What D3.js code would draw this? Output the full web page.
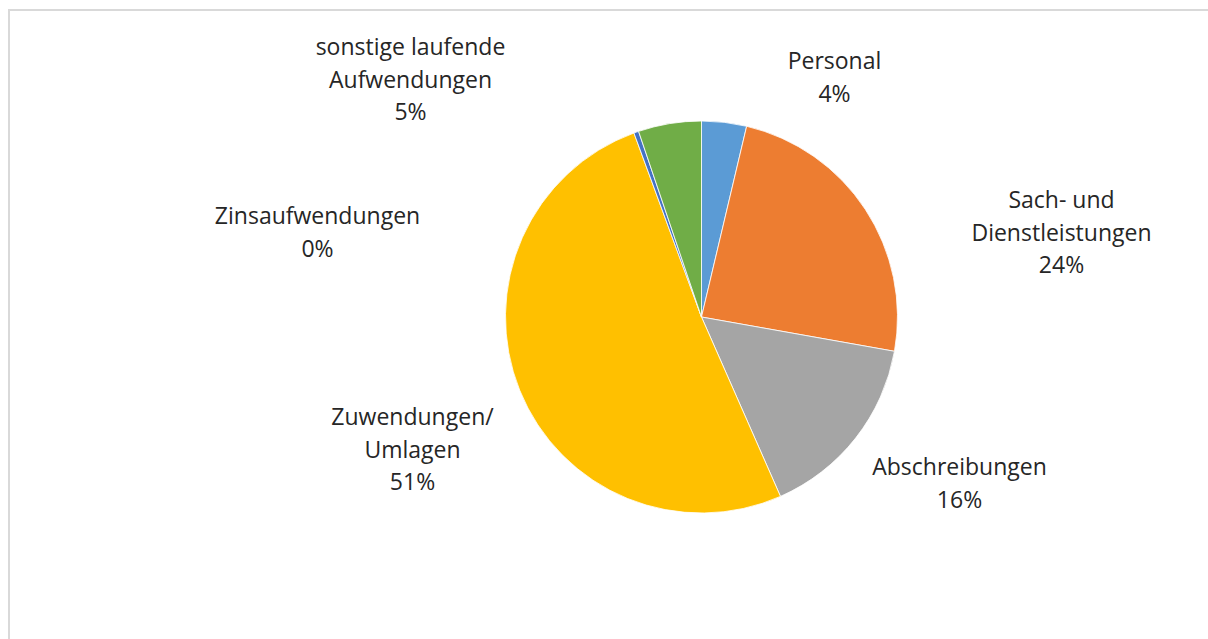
<!DOCTYPE html>
<html><head><meta charset="utf-8">
<script src="https://cdn.jsdelivr.net/npm/d3@7"></script>
<style>body{margin:0;background:#fff;overflow:hidden}svg{display:block}</style>
</head><body>
<script>
const categories = ["Personal", "Sach- und Dienstleistungen", "Abschreibungen", "Zuwendungen/ Umlagen", "Zinsaufwendungen", "sonstige laufende Aufwendungen"];
const values = [3.7, 24.1, 15.6, 51.0, 0.4, 5.2];
const percentLabels = ["4%", "24%", "16%", "51%", "0%", "5%"];
const labelLines = [["Personal"], ["Sach- und", "Dienstleistungen"], ["Abschreibungen"], ["Zuwendungen/", "Umlagen"], ["Zinsaufwendungen"], ["sonstige laufende", "Aufwendungen"]];
const colors = ["#5B9BD5", "#ED7D31", "#A5A5A5", "#FFC000", "#4472C4", "#70AD47"];

// layout
const W = 1208, H = 639;
const cx = 701.5, cy = 317, R = 196;
// label centre positions (x, first-line y) relative to pie centre
const labelAnchors = [[133, -256], [360, -117], [258, 150], [-289, 100], [-384, -101], [-291, -270]];
const lineH = 32.5;

const svg = d3.select("body").append("svg").attr("width", W).attr("height", H);
svg.append("path").attr("d", `M9,${H}V10H${W}`)
  .attr("fill", "none").attr("stroke", "#d9d9d9").attr("stroke-width", 2);

const pie = d3.pie().sort(null).value(d => d)(values);
const arc = d3.arc().innerRadius(0).outerRadius(R);
const g = svg.append("g").attr("transform", `translate(${cx},${cy})`);
g.selectAll("path").data(pie).join("path")
  .attr("d", arc).attr("fill", (d, i) => colors[i])
  .attr("stroke", "#fff").attr("stroke-width", 0.8);

const lg = g.selectAll("text.lbl").data(pie).join("text").attr("class", "lbl")
  .attr("text-anchor", "middle")
  .attr("font-family", "'Open Sans', 'Liberation Sans', sans-serif")
  .attr("font-size", 23).attr("fill", "#262626");
lg.each(function(d, i) {
  const t = d3.select(this);
  const [ax, ay] = labelAnchors[i];
  const lines = labelLines[i].concat([percentLabels[i]]);
  lines.forEach((s, k) => {
    t.append("tspan").attr("x", ax).attr("y", ay + k * lineH).attr("dy", "0.35em").text(s);
  });
});
</script>
</body></html>
